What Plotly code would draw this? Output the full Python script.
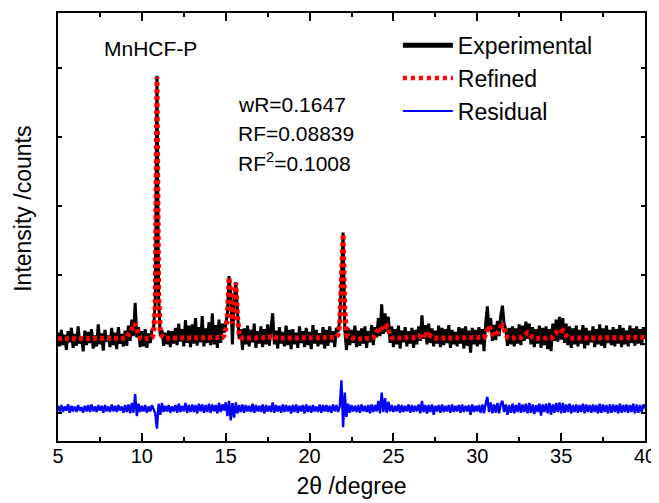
import numpy as np
import plotly.graph_objects as go

# 2-theta grid, 5.0 .. 40.0 deg in 0.1 deg steps (351 points)
two_theta = np.round(np.linspace(5.0, 40.0, 351), 1)

# Experimental intensity (arbitrary units), one row per degree
experimental = [
    1.17, 0.97, 1.21, 0.99, 1.14, 0.92, 1.19, 1.03, 1.24, 0.95,
    1.15, 0.98, 1.26, 1.01, 1.12, 0.90, 1.20, 0.99, 1.18, 1.02,
    1.22, 0.94, 1.13, 0.97, 1.29, 1.00, 1.16, 0.91, 1.21, 1.04,
    1.13, 0.96, 1.24, 0.99, 1.17, 0.93, 1.25, 1.01, 1.15, 0.97,
    1.20, 0.98, 1.27, 1.05, 1.36, 1.12, 1.60, 1.10, 1.25, 0.96,
    1.19, 0.97, 1.22, 0.95, 1.16, 1.02, 1.21, 1.24, 1.62, 4.89,
    1.66, 1.12, 1.21, 0.98, 1.17, 1.00, 1.20, 0.96, 1.19, 1.01,
    1.24, 0.99, 1.30, 1.04, 1.22, 0.97, 1.35, 1.02, 1.27, 0.96,
    1.29, 1.01, 1.38, 0.98, 1.25, 1.03, 1.41, 0.97, 1.23, 1.02,
    1.32, 0.99, 1.45, 1.00, 1.28, 0.95, 1.36, 1.02, 1.30, 1.17,
    1.28, 1.45, 1.99, 1.72, 1.00, 1.62, 1.90, 1.38, 1.08, 1.22,
    0.92, 1.23, 1.00, 1.27, 0.97, 1.21, 1.03, 1.30, 0.95, 1.19,
    1.01, 1.26, 0.96, 1.22, 1.00, 1.29, 0.98, 1.24, 1.45, 1.00,
    1.20, 0.94, 1.25, 1.01, 1.18, 0.97, 1.27, 0.99, 1.21, 0.93,
    1.22, 1.00, 1.17, 0.95, 1.26, 1.02, 1.19, 0.96, 1.24, 0.99,
    1.18, 0.93, 1.28, 1.01, 1.21, 0.97, 1.16, 1.00, 1.25, 0.94,
    1.21, 0.98, 1.26, 1.03, 1.19, 0.96, 1.24, 1.18, 1.35, 1.97,
    2.62, 1.20, 0.92, 1.24, 0.99, 1.21, 1.02, 1.27, 0.96, 1.20,
    0.98, 1.23, 1.01, 1.26, 0.95, 1.19, 1.03, 1.28, 0.99, 1.25,
    1.10, 1.38, 1.12, 1.58, 1.15, 1.45, 1.18, 1.40, 1.02, 1.26,
    0.96, 1.22, 1.00, 1.27, 0.94, 1.20, 1.03, 1.25, 0.97, 1.19,
    1.01, 1.24, 0.95, 1.21, 1.00, 1.26, 1.05, 1.42, 1.08, 1.28,
    1.00, 1.30, 1.02, 1.23, 0.97, 1.20, 1.01, 1.27, 0.96, 1.24,
    0.99, 1.22, 1.02, 1.28, 0.95, 1.21, 1.00, 1.18, 0.97, 1.25,
    1.01, 1.23, 0.94, 1.26, 0.98, 1.20, 0.88, 1.24, 1.00, 1.21,
    0.97, 1.25, 1.00, 1.22, 0.90, 1.30, 1.55, 1.20, 1.38, 1.05,
    1.28, 1.06, 1.34, 1.12, 1.42, 1.56, 1.30, 1.22, 0.98, 1.24,
    1.00, 1.26, 0.97, 1.23, 1.01, 1.29, 0.99, 1.27, 1.05, 1.33,
    1.08, 1.30, 1.00, 1.25, 0.96, 1.22, 1.01, 1.27, 0.95, 1.24,
    0.99, 1.26, 0.93, 1.22, 0.90, 1.30, 1.05, 1.36, 1.04, 1.40,
    1.07, 1.38, 1.02, 1.30, 0.99, 1.26, 0.95, 1.23, 1.00, 1.27,
    0.97, 1.21, 1.01, 1.28, 0.94, 1.24, 0.99, 1.20, 1.03, 1.26,
    0.96, 1.22, 1.00, 1.29, 0.98, 1.23, 0.95, 1.27, 1.02, 1.21,
    0.99, 1.25, 0.97, 1.22, 1.01, 1.28, 0.96, 1.24, 1.00, 1.20,
    0.97, 1.27, 1.02, 1.23, 0.98, 1.26, 1.01, 1.22, 0.99, 1.25,
    1.08,
]

# Refined (calculated) profile
refined = [
    1.08, 1.08, 1.08, 1.08, 1.08, 1.08, 1.08, 1.08, 1.08, 1.08,
    1.08, 1.08, 1.08, 1.08, 1.08, 1.08, 1.08, 1.08, 1.08, 1.08,
    1.08, 1.08, 1.08, 1.08, 1.08, 1.08, 1.08, 1.08, 1.08, 1.08,
    1.08, 1.08, 1.08, 1.08, 1.08, 1.08, 1.08, 1.08, 1.08, 1.08,
    1.09, 1.10, 1.13, 1.18, 1.22, 1.26, 1.30, 1.22, 1.12, 1.09,
    1.08, 1.08, 1.08, 1.08, 1.08, 1.09, 1.10, 1.16, 1.55, 4.87,
    1.70, 1.20, 1.12, 1.10, 1.09, 1.09, 1.09, 1.09, 1.09, 1.09,
    1.10, 1.10, 1.10, 1.10, 1.10, 1.10, 1.10, 1.10, 1.10, 1.10,
    1.10, 1.10, 1.10, 1.10, 1.10, 1.10, 1.10, 1.10, 1.10, 1.10,
    1.10, 1.10, 1.10, 1.10, 1.10, 1.10, 1.10, 1.10, 1.10, 1.13,
    1.22, 1.40, 1.97, 1.75, 1.30, 1.60, 1.89, 1.40, 1.15, 1.10,
    1.09, 1.09, 1.09, 1.09, 1.09, 1.09, 1.09, 1.09, 1.09, 1.09,
    1.09, 1.09, 1.09, 1.09, 1.09, 1.09, 1.10, 1.12, 1.13, 1.11,
    1.09, 1.09, 1.09, 1.09, 1.09, 1.09, 1.09, 1.09, 1.09, 1.09,
    1.09, 1.09, 1.09, 1.09, 1.09, 1.09, 1.09, 1.09, 1.09, 1.09,
    1.09, 1.09, 1.09, 1.09, 1.09, 1.09, 1.09, 1.09, 1.09, 1.09,
    1.09, 1.09, 1.09, 1.09, 1.09, 1.10, 1.11, 1.14, 1.30, 1.95,
    2.60, 1.50, 1.15, 1.11, 1.10, 1.09, 1.09, 1.09, 1.08, 1.08,
    1.08, 1.08, 1.08, 1.08, 1.08, 1.08, 1.08, 1.09, 1.10, 1.13,
    1.18, 1.22, 1.25, 1.22, 1.20, 1.24, 1.26, 1.20, 1.13, 1.10,
    1.09, 1.09, 1.09, 1.09, 1.09, 1.09, 1.09, 1.09, 1.09, 1.09,
    1.09, 1.09, 1.09, 1.09, 1.09, 1.10, 1.13, 1.16, 1.15, 1.12,
    1.11, 1.14, 1.12, 1.10, 1.09, 1.09, 1.09, 1.09, 1.09, 1.09,
    1.09, 1.09, 1.09, 1.09, 1.09, 1.09, 1.09, 1.09, 1.09, 1.09,
    1.09, 1.09, 1.09, 1.09, 1.09, 1.09, 1.09, 1.09, 1.09, 1.09,
    1.09, 1.09, 1.09, 1.09, 1.10, 1.14, 1.22, 1.27, 1.20, 1.14,
    1.12, 1.13, 1.16, 1.20, 1.25, 1.27, 1.22, 1.14, 1.10, 1.09,
    1.09, 1.09, 1.09, 1.09, 1.09, 1.09, 1.10, 1.12, 1.14, 1.16,
    1.17, 1.15, 1.12, 1.10, 1.09, 1.09, 1.09, 1.09, 1.09, 1.09,
    1.09, 1.09, 1.09, 1.09, 1.09, 1.11, 1.15, 1.17, 1.16, 1.15,
    1.18, 1.20, 1.16, 1.12, 1.10, 1.09, 1.09, 1.09, 1.09, 1.09,
    1.09, 1.09, 1.09, 1.09, 1.09, 1.09, 1.09, 1.09, 1.09, 1.09,
    1.09, 1.09, 1.09, 1.09, 1.09, 1.09, 1.09, 1.09, 1.09, 1.09,
    1.10, 1.10, 1.10, 1.10, 1.10, 1.10, 1.10, 1.10, 1.10, 1.10,
    1.10, 1.10, 1.10, 1.10, 1.10, 1.10, 1.10, 1.10, 1.10, 1.10,
    1.10,
]

# Residual (offset below the pattern)
residual = [
    0.11, 0.03, 0.12, 0.02, 0.10, 0.04, 0.13, 0.01, 0.11, 0.03,
    0.10, 0.02, 0.12, 0.04, 0.09, 0.01, 0.11, 0.03, 0.12, 0.02,
    0.13, 0.03, 0.10, 0.02, 0.12, 0.04, 0.11, 0.01, 0.12, 0.03,
    0.10, 0.02, 0.13, 0.03, 0.11, 0.02, 0.12, 0.04, 0.10, 0.01,
    0.12, 0.02, 0.13, 0.00, 0.15, 0.01, 0.28, -0.04, 0.14, 0.02,
    0.11, 0.03, 0.12, 0.01, 0.10, 0.03, 0.12, 0.06, 0.00, -0.22,
    0.14, -0.02, 0.15, 0.02, 0.11, 0.03, 0.12, 0.01, 0.10, 0.03,
    0.12, 0.01, 0.14, 0.02, 0.11, 0.03, 0.15, 0.01, 0.12, 0.02,
    0.13, 0.02, 0.12, 0.00, 0.14, 0.03, 0.13, 0.01, 0.12, 0.02,
    0.14, 0.01, 0.13, 0.03, 0.12, 0.00, 0.15, 0.02, 0.13, 0.04,
    0.16, -0.04, 0.18, -0.10, 0.15, -0.06, 0.16, 0.00, 0.12, 0.02,
    0.13, 0.01, 0.12, 0.03, 0.11, 0.02, 0.14, 0.01, 0.12, 0.03,
    0.11, 0.02, 0.13, 0.00, 0.12, 0.03, 0.11, 0.02, 0.16, 0.01,
    0.12, 0.03, 0.11, 0.01, 0.13, 0.02, 0.12, 0.03, 0.11, 0.00,
    0.12, 0.02, 0.13, 0.01, 0.11, 0.03, 0.12, 0.00, 0.13, 0.02,
    0.11, 0.01, 0.12, 0.03, 0.10, 0.02, 0.13, 0.01, 0.12, 0.03,
    0.12, 0.02, 0.11, 0.01, 0.13, 0.03, 0.12, 0.02, 0.10, 0.48,
    -0.20, 0.30, -0.05, 0.14, 0.01, 0.12, 0.03, 0.11, 0.02, 0.12,
    0.01, 0.13, 0.03, 0.11, 0.02, 0.12, 0.00, 0.13, 0.02, 0.12,
    0.03, 0.18, 0.00, 0.30, 0.02, 0.22, 0.01, 0.17, 0.03, 0.12,
    0.02, 0.11, 0.03, 0.13, 0.01, 0.12, 0.02, 0.11, 0.03, 0.13,
    0.01, 0.12, 0.02, 0.11, 0.03, 0.13, 0.00, 0.18, 0.02, 0.12,
    0.00, 0.12, 0.02, 0.13, -0.02, 0.11, 0.03, 0.12, 0.01, 0.13,
    0.02, 0.11, 0.03, 0.12, 0.01, 0.13, 0.02, 0.11, 0.03, 0.12,
    0.01, 0.13, 0.02, 0.11, 0.03, 0.12, -0.02, 0.13, 0.02, 0.11,
    0.03, 0.12, 0.01, 0.13, 0.00, 0.14, 0.24, 0.02, 0.16, 0.00,
    0.13, 0.01, 0.15, 0.00, 0.14, 0.18, 0.02, 0.13, -0.02, 0.12,
    0.01, 0.14, 0.00, 0.12, 0.02, 0.15, 0.01, 0.13, 0.02, 0.14,
    0.00, 0.15, 0.01, 0.13, -0.01, 0.12, 0.02, 0.14, -0.03, 0.13,
    0.02, 0.14, 0.00, 0.15, -0.02, 0.13, 0.01, 0.15, 0.02, 0.16,
    0.00, 0.15, 0.01, 0.13, 0.02, 0.14, 0.00, 0.12, 0.02, 0.13,
    0.01, 0.12, 0.02, 0.14, 0.00, 0.13, 0.02, 0.12, 0.01, 0.13,
    0.02, 0.12, 0.00, 0.14, 0.01, 0.13, 0.02, 0.12, 0.00, 0.13,
    0.01, 0.13, 0.02, 0.12, 0.00, 0.14, 0.01, 0.12, 0.02, 0.13,
    0.01, 0.12, 0.02, 0.14, 0.00, 0.13, 0.01, 0.12, 0.02, 0.13,
    0.07,
]

x_ticks = [5, 10, 15, 20, 25, 30, 35, 40]
sample_label = "MnHCF-P"
fit_stats = ["wR=0.1647", "RF=0.08839", "RF<sup>2</sup>=0.1008"]
series_names = ["Experimental", "Refined", "Residual"]

FONT = "Liberation Sans, Arial, sans-serif"
EXP_LINE = dict(color="black", width=3)
REF_LINE = dict(color="#ff0000", width=5, dash="4px,3px")
RES_LINE = dict(color="#0000ff", width=2.4)

fig = go.Figure()

fig.add_trace(go.Scatter(x=two_theta, y=experimental, mode="lines", line=EXP_LINE,
                         name=series_names[0], showlegend=False))
fig.add_trace(go.Scatter(x=two_theta, y=refined, mode="lines", line=REF_LINE,
                         name=series_names[1], showlegend=False))
fig.add_trace(go.Scatter(x=two_theta, y=residual, mode="lines", line=RES_LINE,
                         name=series_names[2], showlegend=False))

# legend entries (thicker sample lines, as in the original legend)
fig.add_trace(go.Scatter(x=[None], y=[None], mode="lines",
                         line=dict(color="black", width=5), name=series_names[0]))
fig.add_trace(go.Scatter(x=[None], y=[None], mode="lines",
                         line=dict(color="#ff0000", width=4.5, dash="4px,4px"), name=series_names[1]))
fig.add_trace(go.Scatter(x=[None], y=[None], mode="lines",
                         line=dict(color="#0000ff", width=2), name=series_names[2]))

fig.add_annotation(text=sample_label, xref="paper", yref="paper", x=0.075, y=0.917,
                   xanchor="left", yanchor="middle", showarrow=False,
                   font=dict(size=21, color="black", family=FONT))
for t, yy in zip(fit_stats, [0.786, 0.719, 0.652]):
    fig.add_annotation(text=t, xref="paper", yref="paper", x=0.303, y=yy,
                       xanchor="left", yanchor="middle", showarrow=False,
                       font=dict(size=21, color="black", family=FONT))

fig.add_annotation(text="Intensity /counts", xref="paper", yref="paper",
                   x=-0.061, y=0.543, textangle=-90, xanchor="center", yanchor="middle",
                   showarrow=False, font=dict(size=23, color="black", family=FONT))

# the page adds an 8 px body margin, so the figure is sized 8 px smaller
fig.update_layout(
    width=651, height=495,
    margin=dict(l=50, r=14, t=5, b=62, autoexpand=False),
    paper_bgcolor="white", plot_bgcolor="white",
    font=dict(family=FONT, color="black", size=20),
    legend=dict(x=0.579, y=0.975, xanchor="left", yanchor="top",
                bgcolor="rgba(0,0,0,0)", font=dict(size=23, family=FONT),
                itemwidth=50, tracegroupgap=0),
)
fig.update_xaxes(range=[5, 40], tickvals=x_ticks, ticks="inside", ticklen=8, tickwidth=1.5,
                 tickcolor="black", showline=True, linewidth=2, linecolor="black",
                 mirror="ticks", showgrid=False, zeroline=False, automargin=False,
                 minor=dict(ticks="inside", ticklen=4, dtick=2.5, tickwidth=1.5, tickcolor="black"),
                 tickfont=dict(size=20, family=FONT), ticklabelstandoff=-4,
                 title=dict(text="2θ /degree", font=dict(size=23, family=FONT), standoff=12))
fig.update_yaxes(range=[-0.4, 5.8], dtick=1, tick0=0, ticks="inside", ticklen=4, tickwidth=1.5,
                 tickcolor="black", showline=True, linewidth=2, linecolor="black",
                 mirror="ticks", showgrid=False, zeroline=False, showticklabels=False,
                 automargin=False)

fig.write_html("out.html")
